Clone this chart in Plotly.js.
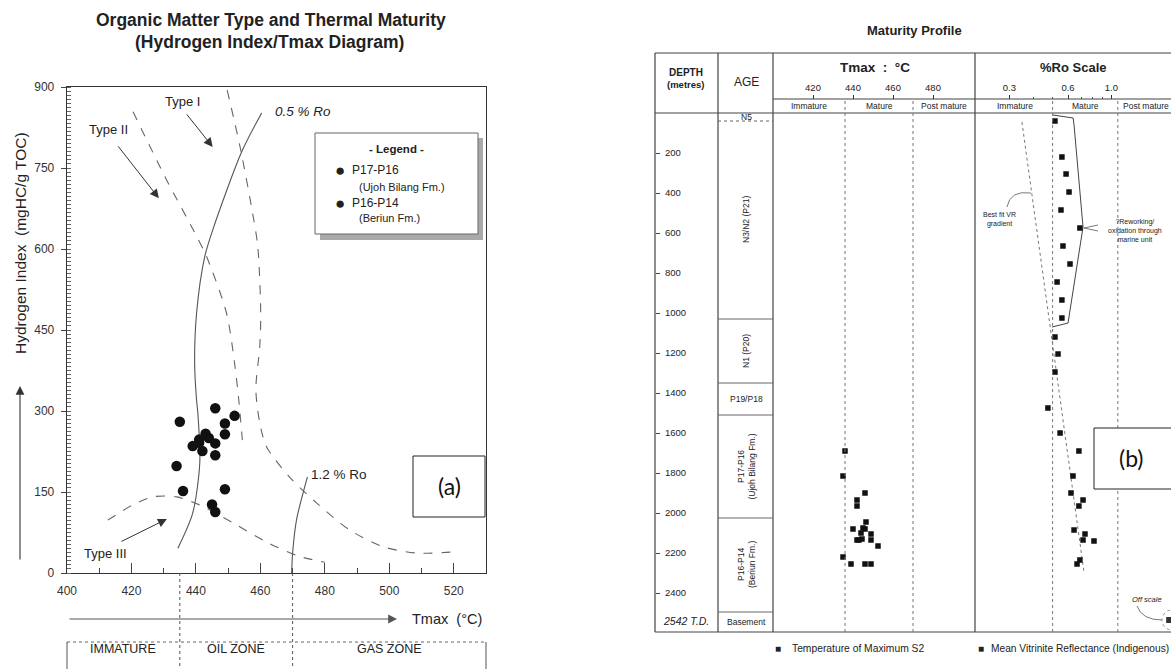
<!DOCTYPE html>
<html><head><meta charset="utf-8">
<script src="https://cdn.plot.ly/plotly-3.0.1.min.js"></script>
<style>html,body{margin:0;padding:0;background:#fff}</style>
</head><body><div id="chart" style="width:1171px;height:669px"></div>
<script>
// ---------- (a) Hydrogen Index / Tmax data ----------
const tmaxP1716 = [435, 434, 436, 446, 452, 449, 449, 443, 441];
const hiP1716   = [280, 198, 152, 305, 291, 277, 257, 258, 241];
const tmaxP1614 = [439, 444, 446, 442, 446, 449, 445, 446, 441];
const hiP1614   = [235, 250, 240, 226, 218, 155, 127, 113, 247];

// kerogen type and iso-reflectance curves
const typeIx   = [449.7, 453.7, 457.6, 459.2, 460.1, 459.8, 458.6, 459.8, 461.9, 469, 477.4, 487.6, 497.9, 508.4, 520];
const typeIy   = [894, 789, 666, 604, 481, 419, 340, 278, 234, 178, 130, 80, 49, 37, 39];
const typeIIx  = [420.5, 430.9, 439.2, 443.3, 449.5, 452, 453.3, 454.4];
const typeIIy  = [854, 728, 635, 586, 481, 388, 320, 246];
const typeIIIx = [412.7, 420.4, 426.6, 434, 441.2, 451.4, 462, 472, 480];
const typeIIIy = [98, 126, 141, 141, 126, 93, 57, 31, 20];
const ro05x    = [460.4, 454.2, 445.2, 442.7, 440.2, 439.6, 440.2, 440.6, 441.2, 439, 434.4];
const ro05y    = [852, 780, 635, 585, 481, 389, 320, 296, 204, 111, 46];
const ro12x    = [474.6, 471.2, 470, 469.7];
const ro12y    = [178, 98, 37, 0];
const zoneBoundsA = [435, 470];
const zoneLabelsA = ['IMMATURE', 'OIL ZONE', 'GAS ZONE'];

// ---------- (b) Maturity profile data ----------
const tmaxB      = [436, 435, 446, 442, 442, 446.5, 440, 445, 446, 444, 449, 442, 443, 444.5, 449, 452.5, 435, 439, 446, 449];
const tmaxDepthB = [1690, 1815, 1900, 1935, 1965, 2045, 2080, 2075, 2080, 2100, 2105, 2135, 2135, 2130, 2135, 2165, 2220, 2255, 2255, 2255];
const roB        = [0.514, 0.558, 0.586, 0.607, 0.552, 0.690, 0.565, 0.614, 0.527, 0.558, 0.558, 0.514, 0.533, 0.514,
                    0.473, 0.546, 0.682, 0.636, 0.621, 0.716, 0.682, 0.644, 0.733, 0.716, 0.815, 0.690, 0.667];
const roDepthB   = [40, 220, 305, 395, 485, 575, 665, 755, 845, 935, 1025, 1120, 1205, 1295,
                    1475, 1600, 1690, 1815, 1900, 1935, 1965, 2085, 2105, 2135, 2140, 2235, 2255];
const roOffScale = [1.98];
const depthOffScale = [2535];
const bestFitRo    = [0.348, 0.724];
const bestFitDepth = [45, 2295];
const envRo    = [0.502, 0.637, 0.644, 0.716, 0.600, 0.497];
const envDepth = [10, 25, 60, 570, 1050, 1070];
const ageBounds = [0, 40, 1030, 1350, 1510, 2025, 2495, 2595];
const ageLabels = ['N5', 'N3/N2 (P21)', 'N1 (P20)', 'P19/P18', 'P17-P16<br>(Ujoh Bilang Fm.)', 'P16-P14<br>(Beriun Fm.)', 'Basement'];
const ageRotated = [false, true, true, false, true, true, false];
const depthTicks = [200, 400, 600, 800, 1000, 1200, 1400, 1600, 1800, 2000, 2200, 2400];
const totalDepth = 2542;
const tmaxTicks = [420, 440, 460, 480];
const tmaxZones = [436, 470];
const roTicks = [0.3, 0.6, 1.0];
const roTickText = ['0.3', '0.6', '1.0'];
const roMinor = [0.4, 0.5, 0.7, 0.8, 0.9];
const roZones = [0.5, 1.08];

// ---------- helpers ----------
const W = 1171, H = 669;
const px = x => x / W, py = y => 1 - y / H;
const FF = 'Liberation Sans, Arial, sans-serif';
function L(x0, y0, x1, y1, o) {
  return Object.assign({type:'line', xref:'paper', yref:'paper', x0:px(x0), y0:py(y0), x1:px(x1), y1:py(y1),
    line:{color:'#333', width:1}}, o || {});
}
function T(text, x, y, size, o) {
  return Object.assign({text:text, xref:'paper', yref:'paper', x:px(x), y:py(y), showarrow:false,
    xanchor:'center', yanchor:'middle', font:{family:FF, size:size, color:'#222'}}, o || {});
}
function P(pts) { // path in pixel coords
  return pts.map((p, i) => (i ? 'L' : 'M') + px(p[0]) + ',' + py(p[1])).join(' ');
}

const curveLine = (c, d) => ({color:c, width:1.1, dash:d, shape:'spline', smoothing:0.8});

const traces = [
  {x:typeIx, y:typeIy, mode:'lines', line:curveLine('#666', 'dash'), xaxis:'x', yaxis:'y', hoverinfo:'skip'},
  {x:typeIIx, y:typeIIy, mode:'lines', line:curveLine('#666', 'dash'), xaxis:'x', yaxis:'y', hoverinfo:'skip'},
  {x:typeIIIx, y:typeIIIy, mode:'lines', line:curveLine('#666', 'dash'), xaxis:'x', yaxis:'y', hoverinfo:'skip'},
  {x:ro05x, y:ro05y, mode:'lines', line:curveLine('#555', 'solid'), xaxis:'x', yaxis:'y', hoverinfo:'skip'},
  {x:ro12x, y:ro12y, mode:'lines', line:curveLine('#555', 'solid'), xaxis:'x', yaxis:'y', hoverinfo:'skip'},
  {x:tmaxP1716, y:hiP1716, mode:'markers', name:'P17-P16', marker:{symbol:'circle', size:10.5, color:'#111'}, xaxis:'x', yaxis:'y'},
  {x:tmaxP1614, y:hiP1614, mode:'markers', name:'P16-P14', marker:{symbol:'circle', size:10.5, color:'#111'}, xaxis:'x', yaxis:'y'},
  // (b)
  {x:bestFitRo, y:bestFitDepth, mode:'lines', line:{color:'#777', width:1, dash:'dot'}, xaxis:'x3', yaxis:'y2', hoverinfo:'skip'},
  {x:envRo, y:envDepth, mode:'lines', line:{color:'#444', width:1}, xaxis:'x3', yaxis:'y2', hoverinfo:'skip'},
  {x:tmaxB, y:tmaxDepthB, mode:'markers', marker:{symbol:'square', size:5.5, color:'#111'}, xaxis:'x2', yaxis:'y2'},
  {x:roB, y:roDepthB, mode:'markers', marker:{symbol:'square', size:5.5, color:'#111'}, xaxis:'x3', yaxis:'y2'},
  {x:roOffScale, y:depthOffScale, mode:'markers', marker:{symbol:'square', size:6, color:'#333'}, xaxis:'x3', yaxis:'y2', cliponaxis:false}
];

const shapes = [];
const annotations = [];

// ----- (a) decorations -----
annotations.push(T('<b>Organic Matter Type and Thermal Maturity</b>', 271, 20, 17.5));
annotations.push(T('<b>(Hydrogen Index/Tmax Diagram)</b>', 269, 42, 17.5));
annotations.push(T('Hydrogen Index  (mgHC/g TOC)', 21, 243, 15.5, {textangle:-90}));
annotations.push({x:px(20), y:py(386), xref:'paper', yref:'paper', ax:0, ay:175, showarrow:true, arrowhead:2, arrowsize:1.6, arrowwidth:1.1, arrowcolor:'#333', text:''});
annotations.push({x:px(397), y:py(619), xref:'paper', yref:'paper', ax:-329, ay:0, showarrow:true, arrowhead:2, arrowsize:1.6, arrowwidth:1.1, arrowcolor:'#555', text:''});
annotations.push(T('Tmax  (°C)', 447, 619, 14.5));
// zone table
shapes.push(L(67, 642, 486, 642, {line:{color:'#666', width:1, dash:'dot'}}));
shapes.push(L(67, 642, 67, 669, {line:{color:'#555', width:1}}));
shapes.push(L(486, 642, 486, 669, {line:{color:'#555', width:1}}));
zoneBoundsA.forEach(v => shapes.push({type:'line', xref:'x', yref:'paper', x0:v, x1:v, y0:py(573), y1:0,
  line:{color:'#555', width:1, dash:'dot'}}));
const zoneEdgesA = [400].concat(zoneBoundsA, [530]);
zoneLabelsA.forEach((t, i) => annotations.push({text:t, xref:'x', yref:'paper', x:(zoneEdgesA[i] + zoneEdgesA[i + 1]) / 2,
  y:py(658), showarrow:false, font:{family:FF, size:12.5, color:'#222'}}));
// curve labels
annotations.push(T('Type I', 182, 101, 13));
annotations.push(T('Type II', 108, 129, 13));
annotations.push(T('<i>0.5 % Ro</i>', 303, 111, 13.5));
annotations.push(T('1.2 % Ro', 339, 474, 13.5));
annotations.push(T('Type III', 105, 553, 13));
const arrowA = (hx, hy, tx, ty) => ({x:hx, y:hy, ax:tx, ay:ty, xref:'x', yref:'y', axref:'x', ayref:'y', showarrow:true,
  arrowhead:2, arrowsize:1.8, arrowwidth:1, arrowcolor:'#333', text:''});
annotations.push(arrowA(445.2, 789, 436.8, 852));
annotations.push(arrowA(428.5, 694, 415.5, 793));
annotations.push(arrowA(431, 100, 416.4, 57));
// legend box
shapes.push({type:'rect', xref:'paper', yref:'paper', x0:px(320), y0:py(240), x1:px(483), y1:py(138), fillcolor:'#aaa', line:{width:0}});
shapes.push({type:'rect', xref:'paper', yref:'paper', x0:px(315), y0:py(234), x1:px(478), y1:py(133), fillcolor:'#fff', line:{color:'#666', width:1}});
annotations.push(T('<b>- Legend -</b>', 396, 149, 11.5));
annotations.push(T('●', 340, 170, 17));
annotations.push(T('P17-P16', 350, 170, 12, {xanchor:'left'}));
annotations.push(T('(Ujoh Bilang Fm.)', 357, 187, 11, {xanchor:'left'}));
annotations.push(T('●', 340, 203, 17));
annotations.push(T('P16-P14', 350, 203, 12, {xanchor:'left'}));
annotations.push(T('(Beriun Fm.)', 357, 218, 11, {xanchor:'left'}));
// (a) box
shapes.push({type:'rect', xref:'paper', yref:'paper', x0:px(413), y0:py(517), x1:px(485), y1:py(456), fillcolor:'#fff', line:{color:'#222', width:1}, layer:'above'});
annotations.push(T('(a)', 449, 486, 23, {font:{family:'Lato, Open Sans, sans-serif', size:23, color:'#111'}}));

// ----- (b) decorations -----
annotations.push(T('<b>Maturity Profile</b>', 914, 30, 13));
[[655, 53, 1171, 53], [773, 99, 1171, 99], [655, 113, 1171, 113], [655, 632, 1171, 632],
 [655, 53, 655, 632], [718, 53, 718, 632], [773, 53, 773, 632], [975, 53, 975, 632]].forEach(s =>
  shapes.push(L(s[0], s[1], s[2], s[3], {line:{color:'#444', width:1.2}})));
annotations.push(T('<b>DEPTH</b>', 686, 73, 10));
annotations.push(T('<b>(metres)</b>', 686, 84, 9.5));
annotations.push(T('AGE', 746, 82, 12));
annotations.push(T('<b>Tmax  :  °C</b>', 875, 67, 13.5));
annotations.push(T('<b>%Ro Scale</b>', 1073, 67, 13));
annotations.push(T('Immature', 809, 106, 8.5));
annotations.push(T('Mature', 879, 106, 8.5));
annotations.push(T('Post mature', 944, 106, 8.5));
annotations.push(T('Immature', 1015, 106, 8.5));
annotations.push(T('Mature', 1085, 106, 8.5));
annotations.push(T('Post mature', 1146, 106, 8.5));
// age column
ageBounds.slice(1, -1).forEach((d, i) => shapes.push({type:'line', xref:'paper', yref:'y2', x0:px(718), x1:px(773), y0:d, y1:d,
  line:{color:'#666', width:1, dash: i === 0 ? 'dot' : 'solid'}}));
ageLabels.forEach((t, i) => annotations.push({text:t, xref:'paper', yref:'y2', x:px(746), y:(ageBounds[i] + ageBounds[i + 1]) / 2,
  showarrow:false, textangle: ageRotated[i] ? -90 : 0, font:{family:FF, size: ageRotated[i] ? 8.5 : 8.5, color:'#222'}}));
annotations.push({text:'<i>' + totalDepth + ' T.D.</i>', xref:'paper', yref:'y2', x:px(686), y:totalDepth, showarrow:false,
  font:{family:FF, size:10.5, color:'#222'}});
// zone dividers
tmaxZones.forEach(v => shapes.push({type:'line', xref:'x2', yref:'paper', x0:v, x1:v, y0:py(632), y1:py(99),
  line:{color:'#777', width:1, dash:'dot'}}));
roZones.forEach(v => shapes.push({type:'line', xref:'x3', yref:'paper', x0:v, x1:v, y0:py(632), y1:py(99),
  line:{color:'#777', width:1, dash:'dot'}}));
// notes on Ro column
annotations.push(T('Best fit VR<br>gradient', 1000, 219, 7));
shapes.push({type:'path', xref:'paper', yref:'paper', path:'M' + px(1007) + ',' + py(207) + ' Q' + px(1010) + ',' + py(190) + ' ' + px(1031) + ',' + py(193),
  line:{color:'#555', width:0.8}});
annotations.push(T('?Reworking/<br>oxidation through<br>marine unit', 1106, 230, 7, {xanchor:'left'}));
shapes.push({type:'path', xref:'paper', yref:'paper', path:P([[1098, 225], [1084, 228], [1098, 231]]), line:{color:'#555', width:0.8}});
annotations.push(T('<i>Off scale</i>', 1147, 599, 7.5));
shapes.push({type:'path', xref:'paper', yref:'paper', path:'M' + px(1137) + ',' + py(606) + ' Q' + px(1142) + ',' + py(620) + ' ' + px(1162) + ',' + py(620),
  line:{color:'#555', width:0.8}});
shapes.push({type:'circle', xref:'paper', yref:'paper', x0:px(1162), x1:px(1182), y0:py(630), y1:py(610), line:{color:'#777', width:0.8, dash:'dot'}});
// (b) box
shapes.push({type:'rect', xref:'paper', yref:'paper', x0:px(1094), y0:py(489), x1:px(1180), y1:py(428), fillcolor:'#fff', line:{color:'#222', width:1}, layer:'above'});
annotations.push(T('(b)', 1131, 458, 23, {font:{family:'Lato, Open Sans, sans-serif', size:23, color:'#111'}}));
// bottom legend
annotations.push(T('■', 778, 648, 10));
annotations.push(T('Temperature of Maximum S2', 790, 648, 10.3, {xanchor:'left'}));
annotations.push(T('■', 981, 648, 10));
annotations.push(T('Mean Vitrinite Reflectance (Indigenous)', 989, 648, 10.2, {xanchor:'left'}));

const layout = {
  width: W, height: H, margin:{l:0, r:0, t:0, b:0}, showlegend:false,
  paper_bgcolor:'#fff', plot_bgcolor:'rgba(0,0,0,0)',
  font:{family:FF, color:'#222'},
  xaxis:{domain:[px(67), px(486)], range:[400, 530], anchor:'y', ticks:'inside', ticklen:10,
    tickcolor:'#444', minor:{dtick:10, ticklen:5, ticks:'inside', tickcolor:'#444'},
    showline:true, mirror:true, linecolor:'#333', linewidth:1.3, showgrid:false, zeroline:false,
    tickfont:{size:12, color:'#333'}, ticklabelstandoff:6, tickvals:[400,420,440,460,480,500,520]},
  yaxis:{domain:[py(573), py(87)], range:[0, 900], anchor:'x', dtick:150, ticks:'outside', ticklen:5, tickcolor:'#444',
    minor:{dtick:7.5, ticklen:4, ticks:'inside', tickcolor:'#666'},
    showline:true, mirror:true, linecolor:'#333', linewidth:1.3, showgrid:false, zeroline:false,
    tickfont:{size:12, color:'#333'}, ticklabelstandoff:4},
  xaxis2:{domain:[px(773), px(975)], range:[400, 501], anchor:'free', position:py(99), side:'top',
    tickvals:tmaxTicks, ticks:'outside', ticklen:4, tickcolor:'#333', showline:false, showgrid:false, zeroline:false,
    tickfont:{size:9.5, color:'#222'}, ticklabelstandoff:0},
  xaxis3:{type:'log', domain:[px(975), 1], range:[-0.699, 0.306], anchor:'free', position:py(99), side:'top',
    tickvals:roTicks, ticktext:roTickText, ticks:'outside', ticklen:4, tickcolor:'#333',
    minor:{tickvals:roMinor, ticks:'outside', ticklen:2, tickcolor:'#555'},
    showline:false, showgrid:false, zeroline:false, tickfont:{size:9.5, color:'#222'}, ticklabelstandoff:0},
  yaxis2:{domain:[py(632), py(113)], range:[2595, 0], anchor:'free', position:px(655), side:'right',
    tickvals:depthTicks, ticks:'outside', ticklen:4, tickcolor:'#444', showline:false, showgrid:false, zeroline:false,
    tickfont:{size:9.5, color:'#222'}, ticklabelstandoff:3},
  shapes: shapes, annotations: annotations
};

Plotly.newPlot('chart', traces, layout, {staticPlot:true, displayModeBar:false});
</script></body></html>
